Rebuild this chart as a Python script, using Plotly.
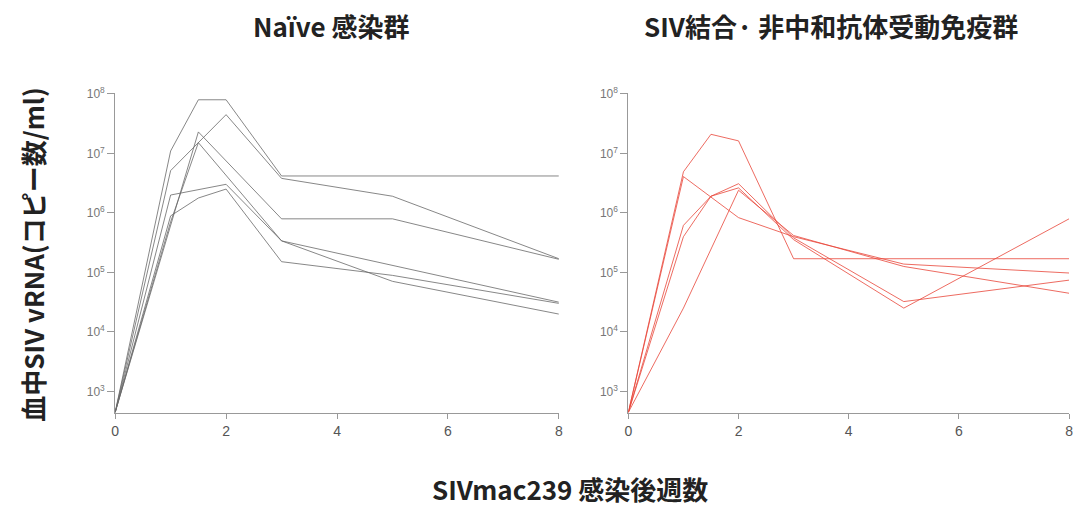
import plotly.graph_objects as go

# ---- data (log10 copies/ml) ----
weeks_ticks = [0, 2, 4, 6, 8]
y_tick_vals = [1e3, 1e4, 1e5, 1e6, 1e7, 1e8]
y_tick_text = ["10<sup>3</sup>", "10<sup>4</sup>", "10<sup>5</sup>",
               "10<sup>6</sup>", "10<sup>7</sup>", "10<sup>8</sup>"]

naive_x = [
    [0, 1, 1.5, 2, 3, 8],
    [0, 1, 2, 3, 5, 8],
    [0, 1.5, 3, 5, 8],
    [0, 1, 1.5, 3, 5, 8],
    [0, 1, 2, 3, 8],
    [0, 1, 1.5, 2, 3, 5, 8],
]
naive_log = [
    [2.65, 7.04, 7.90, 7.90, 6.62, 6.62],
    [2.65, 6.71, 7.65, 6.58, 6.28, 5.23],
    [2.65, 7.36, 5.90, 5.90, 5.22],
    [2.65, 5.85, 7.18, 5.53, 4.85, 4.30],
    [2.65, 6.30, 6.48, 5.53, 4.50],
    [2.65, 5.95, 6.25, 6.40, 5.18, 4.95, 4.48],
]

passive_x = [
    [0, 1, 1.5, 2, 3, 8],
    [0, 1, 2, 3, 5, 8],
    [0, 1, 1.5, 2, 3, 5, 8],
    [0, 1, 1.5, 2, 3, 5, 8],
    [0, 1, 2, 3, 5, 8],
]
passive_log = [
    [2.65, 6.69, 7.32, 7.21, 5.23, 5.23],
    [2.65, 6.61, 5.92, 5.60, 5.14, 4.99],
    [2.65, 5.79, 6.28, 6.49, 5.58, 4.51, 4.87],
    [2.65, 5.60, 6.28, 6.42, 5.55, 4.40, 5.90],
    [2.65, 4.40, 6.38, 5.62, 5.10, 4.65],
]

titles = ["Naïve 感染群", "SIV結合· 非中和抗体受動免疫群"]
y_title = "血中SIV vRNA(コピー数/ml)"
x_title = "SIVmac239 感染後週数"

# ---- figure ----
fig = go.Figure()
W, H = 1081, 506

for xs, ls in zip(naive_x, naive_log):
    fig.add_trace(go.Scatter(x=xs, y=[10 ** v for v in ls], mode="lines",
                             line=dict(color="rgba(105,105,105,0.8)", width=1),
                             xaxis="x", yaxis="y", showlegend=False, hoverinfo="skip"))
for xs, ls in zip(passive_x, passive_log):
    fig.add_trace(go.Scatter(x=xs, y=[10 ** v for v in ls], mode="lines",
                             line=dict(color="rgba(232,70,58,0.8)", width=1),
                             xaxis="x2", yaxis="y2", showlegend=False, hoverinfo="skip"))

tickfont = dict(family="Liberation Sans, Arial", size=12, color="#777")
xtickfont = dict(family="Liberation Sans, Arial", size=14, color="#555")

def xax(domain, anchor):
    return dict(domain=domain, anchor=anchor, range=[0, 8], tickvals=weeks_ticks,
                ticks="outside", ticklen=5, tickcolor="#999", showline=True,
                linecolor="#999", linewidth=1, showgrid=False, zeroline=False,
                tickfont=xtickfont)

def yax(anchor):
    return dict(domain=[(H - 412) / H, (H - 86) / H], anchor=anchor, type="log",
                range=[2.63, 8.02], tickvals=y_tick_vals, ticktext=y_tick_text,
                ticks="outside", ticklen=7, tickcolor="#999", showline=True,
                linecolor="#999", linewidth=1, showgrid=False, zeroline=False,
                tickfont=tickfont)

fig.update_layout(
    width=W, height=H, margin=dict(l=0, r=0, t=0, b=0),
    paper_bgcolor="white", plot_bgcolor="white",
    xaxis=xax([112 / W, 559 / W], "y"),
    yaxis=yax("x"),
    xaxis2=xax([629 / W, 1073 / W], "y2"),
    yaxis2=yax("x2"),
)

cjk = "Noto Sans CJK JP"
def note(x, y, text, size, angle=0):
    fig.add_annotation(x=x / W, y=(H - y) / H, xref="paper", yref="paper",
                       xanchor="center", yanchor="middle",
                       text="<b>%s</b>" % text, showarrow=False, textangle=angle,
                       font=dict(family=cjk, size=size, color="#222"))

note(330, 18, titles[0], 26)
note(833, 18, titles[1], 26)
note(28, 250, y_title, 26, -90)
note(570, 488, x_title, 26)

fig.write_html("out.html")
